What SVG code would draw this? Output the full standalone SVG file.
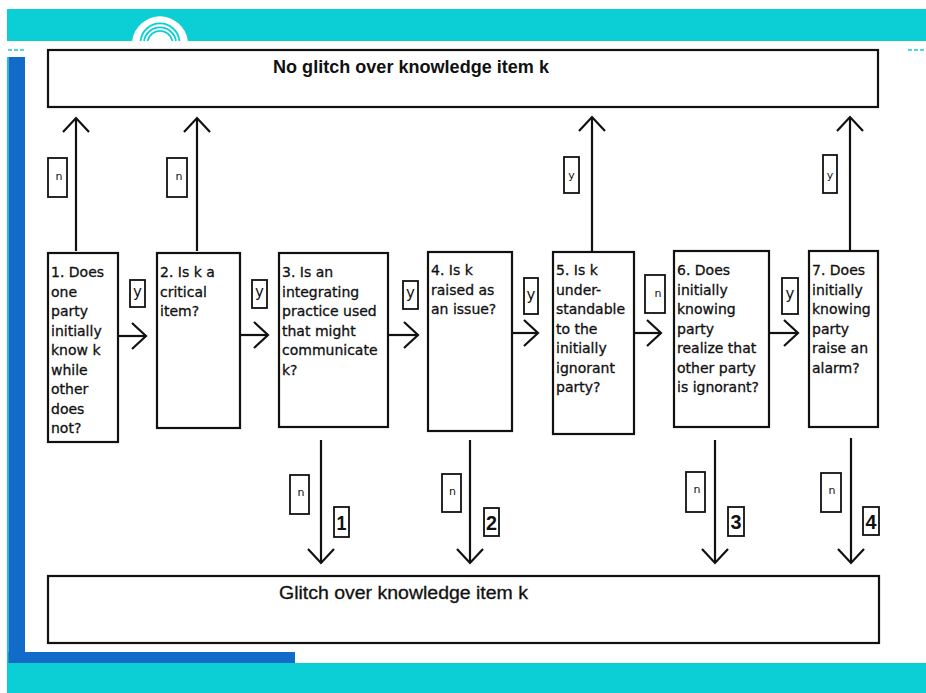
<svg xmlns="http://www.w3.org/2000/svg" width="926" height="693" viewBox="0 0 926 693">
<style>
.box{fill:#fff;stroke:#111;stroke-width:2.2}
.lbl{fill:#fff;stroke:#111;stroke-width:1.8}
.conn{fill:none;stroke:#111;stroke-width:2.2}
.nt{font-family:"DejaVu Sans",Verdana,sans-serif;font-size:14px;fill:#111;stroke:#111;stroke-width:0.3}
.big{font-family:"Liberation Sans",Arial,sans-serif;font-size:18px;fill:#111}
.yl{font-family:"DejaVu Sans",Verdana,sans-serif;font-size:15px;fill:#111;text-anchor:middle}
.sl{font-family:"DejaVu Sans",Verdana,sans-serif;font-size:11px;fill:#111;text-anchor:middle}
.num{font-family:"Liberation Sans",Arial,sans-serif;font-size:20px;font-weight:bold;fill:#111;text-anchor:middle}
</style>
<defs>
<marker id="ah" markerUnits="userSpaceOnUse" markerWidth="34" markerHeight="34" viewBox="-17 -17 20 34" refX="0" refY="0" orient="auto">
<path d="M-14,-13 L0,0 L-14,13" fill="none" stroke="#111" stroke-width="2.2"/>
</marker>
</defs>
<rect width="926" height="693" fill="#fff"/>
<g id="frame">
<rect x="7" y="9" width="919" height="32" fill="#0ccfd6"/>
<path d="M132.2 41 A28 28 0 0 1 187.8 41 Z" fill="#fff"/>
<g fill="none" stroke="#0ccfd6" stroke-width="1.8">
<path d="M140.6 41 A19.5 19.5 0 0 1 179.4 41"/>
<path d="M144 41 A16.2 16.2 0 0 1 176 41"/>
<path d="M147.5 41 A12.8 12.8 0 0 1 172.5 41"/>
</g>
<line x1="8" y1="50" x2="25" y2="50" stroke="#0ccfd6" stroke-width="1.5" stroke-dasharray="4 2"/>
<line x1="908" y1="50" x2="926" y2="50" stroke="#0ccfd6" stroke-width="1.5" stroke-dasharray="4 2"/>
<rect x="7" y="57" width="1.5" height="606" fill="#0ccfd6"/>
<rect x="8.5" y="57" width="16.5" height="606" fill="#126bc8"/>
<rect x="8.5" y="652" width="286.5" height="11" fill="#126bc8"/>
<rect x="7" y="663" width="919" height="30" fill="#0ccfd6"/>
</g>
<g id="connectors">
<line class="conn" x1="118" y1="336" x2="146" y2="336" marker-end="url(#ah)"/>
<rect class="lbl" x="130" y="280" width="15" height="27"/><text class="yl" x="137.5" y="297">y</text>
<line class="conn" x1="240" y1="335" x2="268" y2="335" marker-end="url(#ah)"/>
<rect class="lbl" x="252" y="280" width="15" height="28"/><text class="yl" x="259.5" y="297">y</text>
<line class="conn" x1="388" y1="335" x2="418" y2="335" marker-end="url(#ah)"/>
<rect class="lbl" x="403" y="281" width="15" height="28"/><text class="yl" x="410.5" y="298">y</text>
<line class="conn" x1="512" y1="333" x2="538" y2="333" marker-end="url(#ah)"/>
<rect class="lbl" x="524" y="278" width="14" height="36"/><text class="yl" x="531" y="300">y</text>
<line class="conn" x1="634" y1="333" x2="661" y2="333" marker-end="url(#ah)"/>
<rect class="lbl" x="645" y="275" width="20" height="38"/><text class="sl" x="658" y="297">n</text>
<line class="conn" x1="769" y1="333" x2="798" y2="333" marker-end="url(#ah)"/>
<rect class="lbl" x="782" y="278" width="16" height="36"/><text class="yl" x="790" y="299">y</text>

<line class="conn" x1="76" y1="251" x2="76" y2="118" marker-end="url(#ah)"/>
<rect class="lbl" x="48" y="158" width="19" height="39"/><text class="sl" x="59" y="180">n</text>
<line class="conn" x1="197" y1="251" x2="197" y2="118" marker-end="url(#ah)"/>
<rect class="lbl" x="167" y="158" width="20" height="39"/><text class="sl" x="179" y="180">n</text>
<line class="conn" x1="592" y1="251" x2="592" y2="117" marker-end="url(#ah)"/>
<rect class="lbl" x="564" y="157" width="15" height="36"/><text class="sl" x="571.5" y="179">y</text>
<line class="conn" x1="850" y1="250" x2="850" y2="117" marker-end="url(#ah)"/>
<rect class="lbl" x="823" y="155" width="14" height="38"/><text class="sl" x="830" y="179">y</text>

<line class="conn" x1="321" y1="440" x2="321" y2="563" marker-end="url(#ah)"/>
<rect class="lbl" x="290" y="475" width="19" height="39"/><text class="sl" x="301" y="496">n</text>
<rect class="lbl" x="334" y="507" width="15" height="30"/><text class="num" x="341.5" y="530" textLength="10" lengthAdjust="spacingAndGlyphs">1</text>
<line class="conn" x1="470" y1="440" x2="470" y2="563" marker-end="url(#ah)"/>
<rect class="lbl" x="442" y="474" width="19" height="38"/><text class="sl" x="452.5" y="495">n</text>
<rect class="lbl" x="484" y="508" width="15" height="28"/><text class="num" x="491.5" y="530" textLength="11" lengthAdjust="spacingAndGlyphs">2</text>
<line class="conn" x1="715" y1="440" x2="715" y2="563" marker-end="url(#ah)"/>
<rect class="lbl" x="686" y="472" width="19" height="40"/><text class="sl" x="697" y="493">n</text>
<rect class="lbl" x="728" y="507" width="16" height="29"/><text class="num" x="736" y="529" textLength="11" lengthAdjust="spacingAndGlyphs">3</text>
<line class="conn" x1="851" y1="438" x2="851" y2="563" marker-end="url(#ah)"/>
<rect class="lbl" x="821" y="473" width="20" height="39"/><text class="sl" x="832" y="494">n</text>
<rect class="lbl" x="863" y="507" width="16" height="28"/><text class="num" x="871" y="529" textLength="11" lengthAdjust="spacingAndGlyphs">4</text>
</g>
<g id="no-glitch">
<rect class="box" x="48" y="50" width="830" height="57"/>
<text class="big" x="273" y="73" font-weight="bold" textLength="276" lengthAdjust="spacingAndGlyphs">No glitch over knowledge item k</text>
</g>
<g id="glitch">
<rect class="box" x="48" y="576" width="831" height="67"/>
<text class="big" x="279" y="599" font-size="18.5" stroke="#111" stroke-width="0.3" textLength="249" lengthAdjust="spacingAndGlyphs">Glitch over knowledge item k</text>
</g>
<g id="q1">
<rect class="box" x="48" y="253" width="70" height="189"/>
<text class="nt"><tspan x="51" y="277">1. Does</tspan><tspan x="51" y="296.5">one</tspan><tspan x="51" y="316">party</tspan><tspan x="51" y="335.5">initially</tspan><tspan x="51" y="355">know k</tspan><tspan x="51" y="374.5">while</tspan><tspan x="51" y="394">other</tspan><tspan x="51" y="413.5">does</tspan><tspan x="51" y="433">not?</tspan></text>
</g>
<g id="q2">
<rect class="box" x="157" y="253" width="83" height="175"/>
<text class="nt"><tspan x="160" y="277">2. Is k a</tspan><tspan x="160" y="296.5">critical</tspan><tspan x="160" y="316">item?</tspan></text>
</g>
<g id="q3">
<rect class="box" x="279" y="253" width="109" height="174"/>
<text class="nt"><tspan x="282" y="277">3. Is an</tspan><tspan x="282" y="296.5">integrating</tspan><tspan x="282" y="316">practice used</tspan><tspan x="282" y="335.5">that might</tspan><tspan x="282" y="355">communicate</tspan><tspan x="282" y="374.5">k?</tspan></text>
</g>
<g id="q4">
<rect class="box" x="428" y="252" width="84" height="179"/>
<text class="nt"><tspan x="431" y="275">4. Is k</tspan><tspan x="431" y="294.5">raised as</tspan><tspan x="431" y="314">an issue?</tspan></text>
</g>
<g id="q5">
<rect class="box" x="553" y="252" width="81" height="182"/>
<text class="nt"><tspan x="556" y="275">5. Is k</tspan><tspan x="556" y="294.5">under-</tspan><tspan x="556" y="314">standable</tspan><tspan x="556" y="333.5">to the</tspan><tspan x="556" y="353">initially</tspan><tspan x="556" y="372.5">ignorant</tspan><tspan x="556" y="392">party?</tspan></text>
</g>
<g id="q6">
<rect class="box" x="674" y="251" width="95" height="176"/>
<text class="nt"><tspan x="677" y="275">6. Does</tspan><tspan x="677" y="294.5">initially</tspan><tspan x="677" y="314">knowing</tspan><tspan x="677" y="333.5">party</tspan><tspan x="677" y="353">realize that</tspan><tspan x="677" y="372.5">other party</tspan><tspan x="677" y="392">is ignorant?</tspan></text>
</g>
<g id="q7">
<rect class="box" x="809" y="251" width="69" height="176"/>
<text class="nt"><tspan x="812" y="275">7. Does</tspan><tspan x="812" y="294.5">initially</tspan><tspan x="812" y="314">knowing</tspan><tspan x="812" y="333.5">party</tspan><tspan x="812" y="353">raise an</tspan><tspan x="812" y="372.5">alarm?</tspan></text>
</g>
</svg>
